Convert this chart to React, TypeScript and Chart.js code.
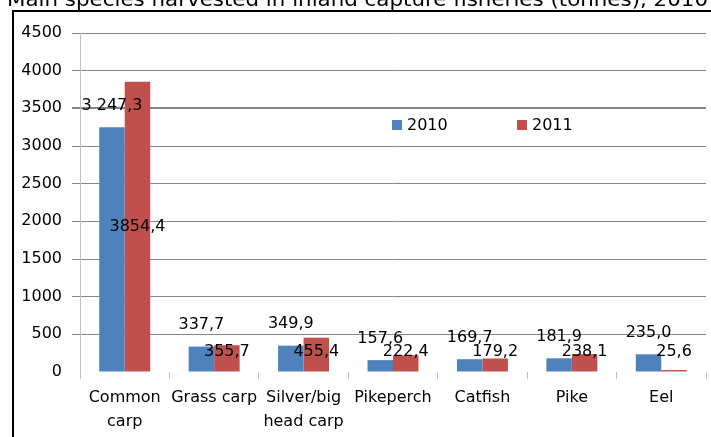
import React, { useEffect, useRef } from 'react';
import { Chart, registerables } from 'chart.js';

Chart.register(...registerables);

const categories: (string | string[])[] = [
  ['Common', 'carp'],
  'Grass carp',
  ['Silver/big', 'head carp'],
  'Pikeperch',
  'Catfish',
  'Pike',
  'Eel',
];
const seriesNames = ['2010', '2011'];
const values2010 = [3247.3, 337.7, 349.9, 157.6, 169.7, 181.9, 235.0];
const values2011 = [3854.4, 355.7, 455.4, 222.4, 179.2, 238.1, 25.6];
const labels2010 = ['3 247,3', '337,7', '349,9', '157,6', '169,7', '181,9', '235,0'];
const labels2011 = ['3854,4', '355,7', '455,4', '222,4', '179,2', '238,1', '25,6'];
const yMin = 0;
const yMax = 4500;
const yStep = 500;
const titleText = 'Main species harvested in inland capture fisheries (tonnes), 2010';

const BLUE = '#4F81BD';
const RED = '#C0504D';
const FONT = '"DejaVu Sans", sans-serif';

const overlayPlugin = {
  id: 'overlay',
  afterDatasetsDraw(chart: any) {
    const ctx = chart.ctx as CanvasRenderingContext2D;
    ctx.save();
    ctx.fillStyle = '#000';
    ctx.font = `16px ${FONT}`;
    ctx.textAlign = 'center';
    ctx.textBaseline = 'middle';
    const m0 = chart.getDatasetMeta(0);
    const m1 = chart.getDatasetMeta(1);
    m0.data.forEach((el: any, i: number) => {
      ctx.fillText(labels2010[i], el.x, el.y - 21.5);
    });
    m1.data.forEach((el: any, i: number) => {
      const mid = (el.y + el.base) / 2;
      ctx.fillText(labels2011[i], el.x, Math.min(mid, el.base - 20));
    });

    // legend
    const colors = [BLUE, RED];
    const lx = [392, 517];
    ctx.font = `16px ${FONT}`;
    ctx.textAlign = 'left';
    seriesNames.forEach((n, i) => {
      ctx.fillStyle = colors[i];
      ctx.fillRect(lx[i], 120, 10, 10);
      ctx.fillStyle = '#000';
      ctx.fillText(n, lx[i] + 15, 125.5);
    });
    ctx.restore();
  },
  afterDraw(chart: any) {
    const ctx = chart.ctx as CanvasRenderingContext2D;
    ctx.save();
    ctx.fillStyle = '#000';
    ctx.fillRect(12, 10, 711 - 12, 2);
    ctx.fillRect(12, 10, 2, 437 - 10);
    ctx.font = `19px ${FONT}`;
    ctx.textAlign = 'left';
    ctx.textBaseline = 'alphabetic';
    const w = ctx.measureText(titleText).width;
    ctx.translate(7, 6);
    ctx.scale(701 / w, 1);
    ctx.fillText(titleText, 0, 0);
    ctx.restore();
  },
};

export default function App() {
  const ref = useRef<HTMLCanvasElement>(null);
  useEffect(() => {
    if (!ref.current) return;
    const chart = new Chart(ref.current, {
      type: 'bar',
      data: {
        labels: categories as any,
        datasets: [
          {
            label: seriesNames[0],
            data: values2010,
            backgroundColor: BLUE,
            borderWidth: 0,
            categoryPercentage: 0.57,
            barPercentage: 1,
          },
          {
            label: seriesNames[1],
            data: values2011,
            backgroundColor: RED,
            borderWidth: 0,
            categoryPercentage: 0.57,
            barPercentage: 1,
          },
        ],
      },
      options: {
        animation: false,
        responsive: false,
        maintainAspectRatio: false,
        layout: { padding: { top: 33, right: 5, left: 0, bottom: 0 } },
        plugins: {
          legend: { display: false },
          title: { display: false },
          tooltip: { enabled: false },
        },
        scales: {
          x: {
            grid: {
              display: true,
              offset: true,
              drawOnChartArea: false,
              drawTicks: true,
              tickLength: 7,
              tickColor: '#BFBFBF',
            },
            border: { display: false },
            ticks: {
              color: '#000',
              font: { family: FONT, size: 16, lineHeight: 1.5 },
              padding: 7,
              maxRotation: 0,
              autoSkip: false,
            },
            afterFit(scale: any) {
              scale.height = 65;
            },
          },
          y: {
            min: yMin,
            max: yMax,
            ticks: {
              stepSize: yStep,
              color: '#000',
              font: { family: FONT, size: 16 },
              padding: 10,
              callback: (v: any) => String(v),
            },
            grid: {
              color: (c: any) => (c.tick && c.tick.value === 0 ? 'rgba(0,0,0,0)' : '#868686'),
              tickColor: (c: any) => (c.tick && c.tick.value === 0 ? 'rgba(0,0,0,0)' : '#868686'),
              lineWidth: (c: any) => (c.tick && c.tick.value === 3500 ? 2 : 1),
              tickLength: 8,
            },
            border: { display: true, color: '#BFBFBF' },
            afterFit(scale: any) {
              scale.width = 80;
            },
          },
        },
      },
      plugins: [overlayPlugin],
    });
    return () => chart.destroy();
  }, []);
  return (
    <div style={{ position: 'fixed', left: 0, top: 0, width: 711, height: 437, background: '#fff' }}>
      <canvas ref={ref} width={711} height={437} style={{ display: 'block' }} />
    </div>
  );
}
